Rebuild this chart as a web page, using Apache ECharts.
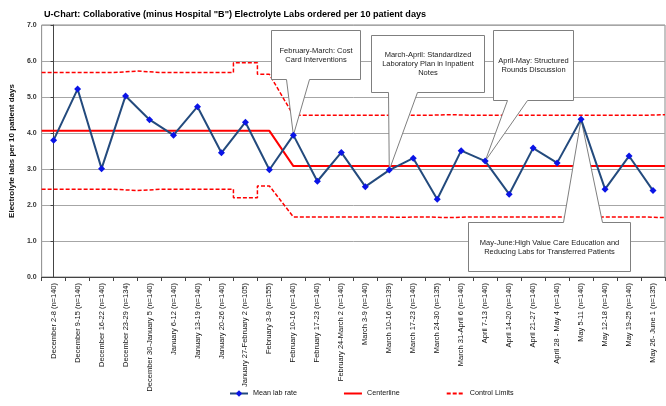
<!DOCTYPE html>
<html><head><meta charset="utf-8">
<script src="https://cdn.jsdelivr.net/npm/echarts@6/dist/echarts.min.js"></script>
<style>html,body{margin:0;padding:0;background:#fff}#c{width:666px;height:406px}</style>
</head><body><div id="c"></div>
<script>
const categories = [
  'December 2-8 (n=140)','December 9-15 (n=140)','December 16-22 (n=140)','December 23-29 (n=134)',
  'December 30-January 5 (n=140)','January 6-12 (n=140)','January 13-19 (n=140)','January 20-26 (n=140)',
  'January 27-February 2 (n=105)','February 3-9 (n=155)','February 10-16 (n=140)','February 17-23 (n=140)',
  'February 24-March 2 (n=140)','March 3-9 (n=140)','March 10-16 (n=139)','March 17-23 (n=140)',
  'March 24-30 (n=135)','March 31-April 6 (n=140)','April 7-13 (n=140)','April 14-20 (n=140)',
  'April 21-27 (n=140)','April 28 - May 4 (n=140)','May 5-11 (n=140)','May 12-18 (n=140)',
  'May 19-25 (n=140)','May 26- June 1 (n=135)'
];
const meanRate = [3.80,5.22,3.01,5.03,4.37,3.94,4.73,3.45,4.30,2.98,3.94,2.66,3.46,2.51,2.97,3.30,2.16,3.51,3.22,2.30,3.58,3.17,4.38,2.44,3.36,2.40];
const centerline = [4.06,4.06,4.06,4.06,4.06,4.06,4.06,4.06,4.06,4.06,3.08,3.08,3.08,3.08,3.08,3.08,3.08,3.08,3.08,3.08,3.08,3.08,3.08,3.08,3.08,3.08];
const upperLimit = [5.68,5.68,5.68,5.72,5.68,5.68,5.68,5.68,5.95,5.63,4.49,4.49,4.49,4.49,4.50,4.49,4.51,4.49,4.49,4.49,4.49,4.49,4.49,4.49,4.49,4.51];
const lowerLimit = [2.44,2.44,2.44,2.40,2.44,2.44,2.44,2.44,2.20,2.53,1.67,1.67,1.67,1.67,1.66,1.67,1.65,1.67,1.67,1.67,1.67,1.67,1.67,1.67,1.67,1.65];
const phase = [1,1,1,1,1,1,1,1,1,1,2,2,2,2,2,2,2,2,2,2,2,2,2,2,2,2];
const callouts = [
  {text:'February-March: Cost\nCard Interventions', idx:10},
  {text:'March-April: Standardized\nLaboratory Plan in Inpatient\nNotes', idx:14},
  {text:'April-May: Structured\nRounds Discussion', idx:18},
  {text:'May-June:High Value Care Education and\nReducing Labs for Transferred Patients', idx:22}
];
// layout of callout boxes (pixels): [left, top, right, bottom], tail base x1,x2, side
const calloutLayout = [
  {box:[271,30,360,79], tail:[286,309], side:'bottom'},
  {box:[371,35,484,92], tail:[388,417], side:'bottom'},
  {box:[493,30,573,100], tail:[507,527], side:'bottom'},
  {box:[468,222,630,271], tail:[563,602], side:'top'}
];

function stepData(vals){
  const out=[]; const n=vals.length;
  for(let i=0;i<n;i++){
    const l = (i>0 && phase[i-1]!==phase[i]) ? i : i-0.5;
    const r = (i<n-1 && phase[i+1]!==phase[i]) ? i : i+0.5;
    out.push([l,vals[i]],[r,vals[i]]);
  }
  return out;
}
const FONT = '"Liberation Sans", Arial, sans-serif';
const chart = echarts.init(document.getElementById('c'), null, {renderer:'canvas'});
chart.setOption({
  animation:false,
  backgroundColor:'#fff',
  title:{text:'U-Chart: Collaborative (minus Hospital "B") Electrolyte Labs ordered per 10 patient days',
    left:39, top:5, textStyle:{fontFamily:FONT, fontSize:9.1, fontWeight:'bold', color:'#000'}},
  grid:{left:37, right:1, top:25, bottom:129, show:true, borderColor:'#888', borderWidth:1, containLabel:false},
  legend:{data:[{name:'Mean lab rate'},{name:'Centerline', itemStyle:{opacity:0}},{name:'Control Limits', itemStyle:{opacity:0}}],
    left:224, bottom:4, itemWidth:18, itemHeight:8, itemGap:46,
    textStyle:{fontFamily:FONT, fontSize:7.2, color:'#111'}},
  xAxis:[
    {type:'category', data:categories, boundaryGap:true,
      axisLine:{lineStyle:{color:'#444', width:1}},
      axisTick:{show:true, length:4, lineStyle:{color:'#444'}},
      axisLabel:{interval:0, rotate:90, margin:6, fontFamily:FONT, fontSize:7.5, color:'#111'},
      splitLine:{show:false}},
    {type:'value', min:-0.5, max:25.5, show:false, splitLine:{show:false}}
  ],
  yAxis:{type:'value', min:0, max:7, interval:1,
    name:'Electrolyte labs per 10 patient days', nameLocation:'middle', nameGap:21, nameRotate:90,
    nameTextStyle:{fontFamily:FONT, fontSize:8, fontWeight:'bold', color:'#111'},
    axisLine:{show:true, lineStyle:{color:'#444'}},
    axisTick:{show:true, length:3, lineStyle:{color:'#444'}},
    axisLabel:{margin:5, fontFamily:FONT, fontSize:7, fontWeight:'bold', color:'#333', formatter:v=>v.toFixed(1)},
    splitLine:{show:true, lineStyle:{color:'#a6a6a6', width:1}}},
  series:[
    {name:'Centerline', type:'line', xAxisIndex:1, data:stepData(centerline), symbol:'none', z:2,
      lineStyle:{color:'#ff0000', width:2}, itemStyle:{color:'#ff0000'}},
    {name:'Control Limits', type:'line', xAxisIndex:1, data:stepData(upperLimit), symbol:'none', z:2,
      lineStyle:{color:'#ff0000', width:1.5, type:[4,2]}, itemStyle:{color:'#ff0000'}},
    {name:'Control Limits', type:'line', xAxisIndex:1, data:stepData(lowerLimit), symbol:'none', z:2,
      lineStyle:{color:'#ff0000', width:1.5, type:[4,2]}, itemStyle:{color:'#ff0000'}},
    {name:'Mean lab rate', type:'line', xAxisIndex:0, data:meanRate, symbol:'diamond', symbolSize:7, z:10,
      lineStyle:{color:'#234a7d', width:2}, itemStyle:{color:'#0a14e6'}}
  ]
});

const graphics = [];
callouts.forEach((c,k)=>{
  const lay = calloutLayout[k];
  const [L,T,R,B] = lay.box.map(v=>v+0.5);
  const [ax,ay] = chart.convertToPixel({xAxisIndex:0, yAxisIndex:0}, [c.idx, meanRate[c.idx]]);
  const t1 = lay.tail[0]+0.5, t2 = lay.tail[1]+0.5;
  let pts;
  if(lay.side==='bottom'){
    pts = [[L,T],[R,T],[R,B],[t2,B],[ax,ay],[t1,B],[L,B]];
  } else {
    pts = [[L,B],[L,T],[t1,T],[ax,ay],[t2,T],[R,T],[R,B]];
  }
  graphics.push({type:'polygon', shape:{points:pts}, z:5,
    style:{fill:'#fff', stroke:'#7f7f7f', lineWidth:1}});
  graphics.push({type:'text', x:(L+R)/2, y:(T+B)/2, z:6,
    style:{text:c.text, fill:'#222', font:'7.5px ' + FONT, align:'center', verticalAlign:'middle',
      textAlign:'center', textVerticalAlign:'middle', lineHeight:9}});
});
chart.setOption({graphic:graphics});
</script></body></html>
